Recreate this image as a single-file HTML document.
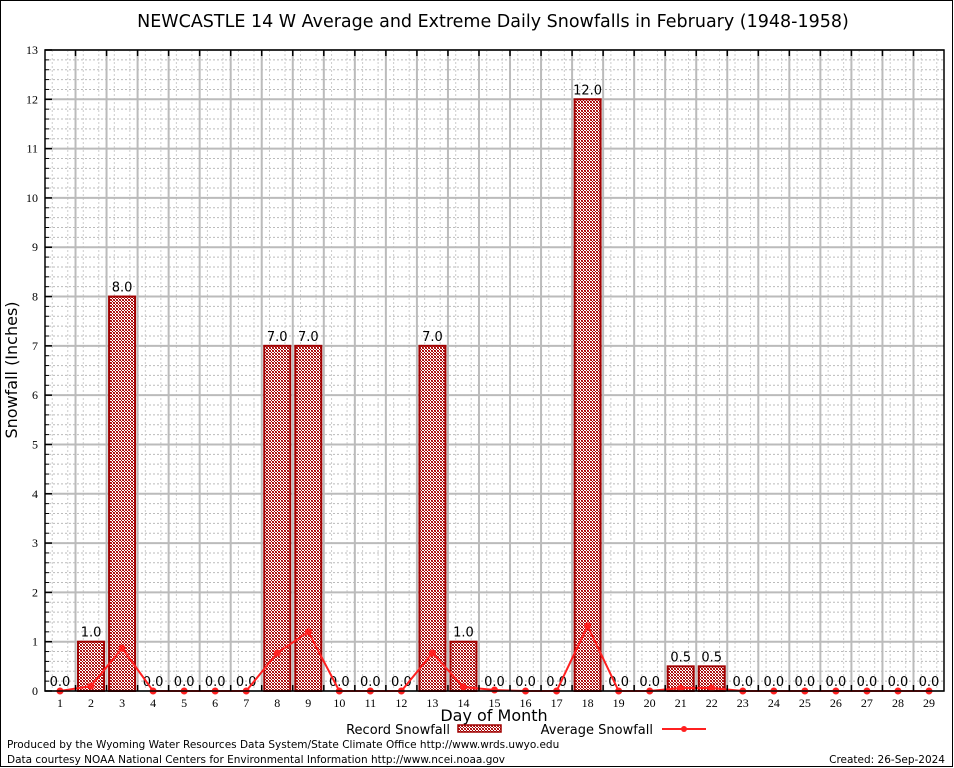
<!DOCTYPE html>
<html><head><meta charset="utf-8"><style>
html,body{margin:0;padding:0;background:#fff}
svg{display:block}
</style></head><body>
<svg id="c" width="954" height="768" xmlns="http://www.w3.org/2000/svg" font-family="'DejaVu Sans','Liberation Sans',sans-serif">
<defs>
<pattern id="hatch" width="3" height="3" patternUnits="userSpaceOnUse">
<rect width="3" height="3" fill="#ffffff"/>
<rect width="1" height="1" fill="#a00000"/>
<rect x="1" y="1" width="1" height="1" fill="#a00000"/>
<rect x="2" y="2" width="1" height="1" fill="#a00000"/>
<rect x="2" y="0" width="1" height="1" fill="#c03030"/>
<rect x="0" y="2" width="1" height="1" fill="#c03030"/>
</pattern>
</defs>
<rect x="0.5" y="0.5" width="952" height="766" fill="#fff" stroke="#000"/>
<text x="493" y="27" text-anchor="middle" font-size="17.5">NEWCASTLE 14 W Average and Extreme Daily Snowfalls in February (1948-1958)</text>
<g id="grid"></g>
<g id="bars"></g>
<g id="avg"></g>
<g id="axes"></g>
<text x="17" y="370" transform="rotate(-90 17 370)" text-anchor="middle" font-size="16">Snowfall (Inches)</text>
<text x="494" y="721" text-anchor="middle" font-size="16">Day of Month</text>
<g>
<text x="450" y="734" text-anchor="end" font-size="13">Record Snowfall</text>
<rect x="458" y="725" width="43" height="7" fill="url(#hatch)" stroke="#a00000" stroke-width="1.5"/>
<text x="653" y="734" text-anchor="end" font-size="13">Average Snowfall</text>
<line x1="662" y1="729" x2="706" y2="729" stroke="#ff2020" stroke-width="2"/>
<circle cx="684" cy="729" r="3" fill="#ff2020"/>
</g>
<text x="7" y="748" font-size="10.5">Produced by the Wyoming Water Resources Data System/State Climate Office http://www.wrds.uwyo.edu</text>
<text x="7" y="763" font-size="10.5">Data courtesy NOAA National Centers for Environmental Information http://www.ncei.noaa.gov</text>
<text x="945" y="763" text-anchor="end" font-size="10.5">Created: 26-Sep-2024</text>
</svg>
<script>
const days = [1,2,3,4,5,6,7,8,9,10,11,12,13,14,15,16,17,18,19,20,21,22,23,24,25,26,27,28,29];
const recordSnow = [0,1,8,0,0,0,0,7,7,0,0,0,7,1,0,0,0,12,0,0,0.5,0.5,0,0,0,0,0,0,0];
const avgSnow = [0,0.1,0.87,0,0,0,0,0.77,1.2,0,0,0,0.77,0.08,0.02,0,0,1.32,0,0,0.06,0.06,0,0,0,0,0,0,0];
const yTicks = [0,1,2,3,4,5,6,7,8,9,10,11,12,13];

const L=45,R=944,T=50,B=691,ymax=13;
const x = d => 60 + (d-1)*(929-60)/28;
const y = v => B - v*(B-T)/ymax;
const NS="http://www.w3.org/2000/svg";
function mk(tag, attrs, parent, text){
  const e=document.createElementNS(NS,tag);
  for(const k in attrs) e.setAttribute(k,attrs[k]);
  if(text!==undefined) e.textContent=text;
  document.getElementById(parent).appendChild(e);
  return e;
}
const step=(929-60)/28;
for(let v=0; v<=ymax+1e-9; v+=0.2){
  const isMajor=Math.abs(v-Math.round(v))<1e-6;
  if(isMajor) continue;
  const ln=mk('line',{x1:L,x2:R,y1:y(v),y2:y(v),stroke:'#bbb','stroke-width':1,'stroke-dasharray':'2,2'},'grid');
  
  
}
for(let d=1; d<=29; d++){
  for(const f of [-0.25,0.25]){
    const ln=mk('line',{x1:x(d)+f*step,x2:x(d)+f*step,y1:T,y2:B,stroke:'#ccc','stroke-width':1,'stroke-dasharray':'2,2'},'grid');
    
    
  }
}
yTicks.forEach(v=>{
  const ln=mk('line',{x1:L,x2:R,y1:y(v),y2:y(v),stroke:'#bbb','stroke-width':2},'grid');
  
  
  const t=mk('text',{x:L-7,y:y(v)+4,'text-anchor':'end','font-size':12,'font-family':"'Liberation Serif','DejaVu Serif',serif"},'axes',String(v));
  
  
  const tk=mk('line',{x1:L,x2:L+7,y1:y(v),y2:y(v),stroke:'#000','stroke-width':1.5},'axes');
  
  
  for(let m=1;m<5&&v<ymax;m++){
    const mt=mk('line',{x1:L,x2:L+4,y1:y(v+m*0.2),y2:y(v+m*0.2),stroke:'#000','stroke-width':1},'axes');
    
    
  }
});
for(let d=1; d<29; d++){
  const xv=x(d)+step/2;
  const ln=mk('line',{x1:xv,x2:xv,y1:T,y2:B,stroke:'#bbb','stroke-width':2},'grid');
  
  
  const t1=mk('line',{x1:xv,x2:xv,y1:T,y2:T+6,stroke:'#000','stroke-width':1.5},'axes');
  
  
  const t2=mk('line',{x1:xv,x2:xv,y1:B,y2:B-6,stroke:'#000','stroke-width':1.5},'axes');
  
  
}
days.forEach((d,i)=>{
  const v=recordSnow[i];
  if(v>0){
    const r=mk('rect',{x:x(d)-13,y:y(v),width:26,height:B-y(v),fill:'url(#hatch)',stroke:'#a00000','stroke-width':2},'bars');
    
    
  }
  const t=mk('text',{x:x(d),y:y(v)-5,'text-anchor':'middle','font-size':13},'bars',v.toFixed(1));
  
  
  const xl=mk('text',{x:x(d),y:B+16,'text-anchor':'middle','font-size':12,'font-family':"'Liberation Serif','DejaVu Serif',serif"},'axes',String(d));
  
  
});
const pts=days.map((d,i)=>x(d)+','+y(avgSnow[i])).join(' ');
const pl=mk('polyline',{points:pts,fill:'none',stroke:'#ff2020','stroke-width':2},'avg');


days.forEach((d,i)=>{
  const c=mk('circle',{cx:x(d),cy:y(avgSnow[i]),r:3.5,fill:'#ff2020'},'avg');
  
  
});
const fr=mk('rect',{x:L,y:T,width:R-L,height:B-T,fill:'none',stroke:'#000','stroke-width':1.5},'axes');


</script>
</body></html>
